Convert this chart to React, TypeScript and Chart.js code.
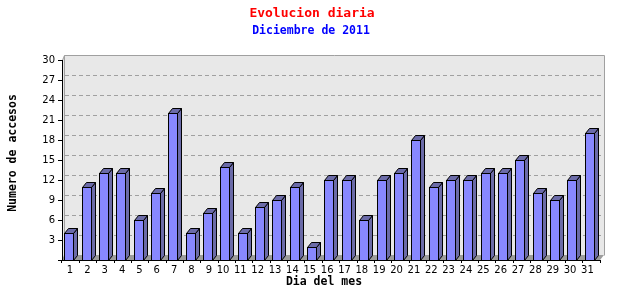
import React, { useEffect, useRef } from "react";
import { Chart, registerables } from "chart.js";

Chart.register(...registerables);

const days = Array.from({ length: 31 }, (_, i) => String(i + 1));
const visits = [4, 11, 13, 13, 6, 10, 22, 4, 7, 14, 4, 8, 9, 11, 2, 12, 12, 6, 12, 13, 18, 11, 12, 12, 13, 13, 15, 10, 9, 12, 19];
const yTicks = [3, 6, 9, 12, 15, 18, 21, 24, 27, 30];

const titleText = "Evolucion diaria";
const subtitleText = "Diciembre de 2011";
const yTitleText = "Numero de accesos";
const xTitleText = "Dia del mes";

const FRONT = "#8888ff";
const SIDE = "#6b6ba8";
const WALL = "#e8e8e8";
const WALL_BORDER = "#a0a0a0";
const FLOOR = "#9c9c9c";
const GRID = "#a0a0a0";
const MONO = "'DejaVu Sans Mono', monospace";

const WALL_DX = 3;
const WALL_DY = 5;
const BAR_DX = 4;
const BAR_DY = 5;

const decorPlugin = {
  id: "decor3d",
  beforeDraw(chart: any) {
    const { ctx, chartArea } = chart;
    const y = chart.scales.y;
    const { left, right, top, bottom } = chartArea;
    ctx.save();
    ctx.fillStyle = "#ffffff";
    ctx.fillRect(0, 0, chart.width, chart.height);

    // back wall
    const wl = left + WALL_DX - 1;
    const wr = right + WALL_DX + 1;
    const wt = top - WALL_DY;
    const wb = bottom - WALL_DY;
    ctx.fillStyle = WALL;
    ctx.fillRect(wl, wt, wr - wl, wb - wt);
    // left side wall strip
    ctx.beginPath();
    ctx.moveTo(left, top);
    ctx.lineTo(wl, wt);
    ctx.lineTo(wl, wb);
    ctx.lineTo(left, bottom);
    ctx.closePath();
    ctx.fill();

    // floor
    ctx.fillStyle = FLOOR;
    ctx.beginPath();
    ctx.moveTo(left, bottom);
    ctx.lineTo(right, bottom);
    ctx.lineTo(wr, wb);
    ctx.lineTo(wl, wb);
    ctx.closePath();
    ctx.fill();

    // grid lines
    ctx.strokeStyle = GRID;
    ctx.lineWidth = 1;
    ctx.setLineDash([4, 3]);
    for (const v of yTicks) {
      if (v === 30) continue;
      const py = Math.round(y.getPixelForValue(v) - WALL_DY) + 0.5;
      ctx.beginPath();
      ctx.moveTo(wl + 1, py);
      ctx.lineTo(wr, py);
      ctx.stroke();
    }
    ctx.setLineDash([]);

    // wall border
    ctx.strokeStyle = WALL_BORDER;
    ctx.beginPath();
    ctx.moveTo(wl + 0.5, wb);
    ctx.lineTo(wl + 0.5, wt + 0.5);
    ctx.lineTo(wr + 0.5, wt + 0.5);
    ctx.lineTo(wr + 0.5, wb + 0.5);
    ctx.stroke();
    ctx.beginPath();
    ctx.moveTo(left + 0.5, top + 0.5);
    ctx.lineTo(wl + 0.5, wt + 0.5);
    ctx.stroke();

    // titles
    ctx.textAlign = "center";
    ctx.textBaseline = "middle";
    ctx.fillStyle = "#ff0000";
    ctx.font = `bold 13px ${MONO}`;
    ctx.fillText(titleText, 312, 14);
    ctx.fillStyle = "#0000ff";
    ctx.font = `bold 11.5px ${MONO}`;
    ctx.fillText(subtitleText, 311, 31);

    ctx.fillStyle = "#000000";
    ctx.font = `bold 11.5px ${MONO}`;
    ctx.fillText(xTitleText, 324, 282);
    ctx.save();
    ctx.translate(13, 153);
    ctx.rotate(-Math.PI / 2);
    ctx.fillText(yTitleText, 0, 0);
    ctx.restore();
    ctx.restore();
  },
  afterDatasetsDraw(chart: any) {
    const { ctx } = chart;
    const meta = chart.getDatasetMeta(0);
    ctx.save();
    ctx.lineWidth = 1;
    ctx.strokeStyle = "#000000";
    for (const el of meta.data) {
      const w = Math.round(el.width);
      const x0 = Math.round(el.x - el.width / 2 - BAR_DX / 2) + 0.5;
      const x1 = x0 + w;
      const yt = Math.round(el.y) + 0.5;
      const yb = Math.round(el.base) + 0.5;
      // side
      ctx.fillStyle = SIDE;
      ctx.beginPath();
      ctx.moveTo(x1, yt);
      ctx.lineTo(x1 + BAR_DX, yt - BAR_DY);
      ctx.lineTo(x1 + BAR_DX, yb - BAR_DY);
      ctx.lineTo(x1, yb);
      ctx.closePath();
      ctx.fill();
      ctx.stroke();
      // top
      ctx.beginPath();
      ctx.moveTo(x0, yt);
      ctx.lineTo(x0 + BAR_DX, yt - BAR_DY);
      ctx.lineTo(x1 + BAR_DX, yt - BAR_DY);
      ctx.lineTo(x1, yt);
      ctx.closePath();
      ctx.fill();
      ctx.stroke();
      // front
      ctx.fillStyle = FRONT;
      ctx.fillRect(x0, yt, w, yb - yt);
      ctx.strokeRect(x0, yt, w, yb - yt);
    }
    ctx.restore();
  },
};

export default function App() {
  const ref = useRef<HTMLCanvasElement>(null);
  useEffect(() => {
    document.body.style.margin = "0";
    const canvas = ref.current!;
    const chart = new Chart(canvas, {
      type: "bar",
      data: {
        labels: days,
        datasets: [
          {
            data: visits,
            backgroundColor: "rgba(0,0,0,0)",
            borderWidth: 0,
            categoryPercentage: 1,
            barPercentage: 0.52,
          },
        ],
      },
      options: {
        animation: false,
        responsive: false,
        devicePixelRatio: 1,
        events: [],
        layout: { padding: { top: 60, left: 0, right: 40, bottom: 20 } },
        plugins: { legend: { display: false }, title: { display: false }, tooltip: { enabled: false } },
        scales: {
          x: {
            offset: true,
            grid: {
              offset: true,
              drawOnChartArea: false,
              drawTicks: true,
              tickLength: 3,
              color: "#000000",
            },
            border: { color: "#000000", width: 1 },
            ticks: {
              autoSkip: false,
              maxRotation: 0,
              align: "end",
              labelOffset: 2.5,
              padding: 1,
              color: "#000000",
              font: { family: "'DejaVu Sans', sans-serif", size: 10 },
            },
            afterFit: (s: any) => {
              s.height = 20;
            },
          },
          y: {
            min: 0,
            max: 30,
            grid: {
              drawOnChartArea: false,
              drawTicks: true,
              tickLength: 4,
              color: "#000000",
            },
            border: { color: "#000000", width: 1 },
            ticks: {
              stepSize: 3,
              padding: 3,
              color: "#000000",
              font: { family: "'DejaVu Sans', sans-serif", size: 10 },
              callback: (v: any) => (v === 0 ? "" : String(v)),
            },
            afterFit: (s: any) => {
              s.width = 62;
            },
          },
        },
      },
      plugins: [decorPlugin],
    });
    return () => chart.destroy();
  }, []);
  return (
    <div style={{ position: "absolute", left: 0, top: 0, width: 640, height: 300 }}>
      <canvas ref={ref} width={640} height={300} style={{ display: "block" }} />
    </div>
  );
}
